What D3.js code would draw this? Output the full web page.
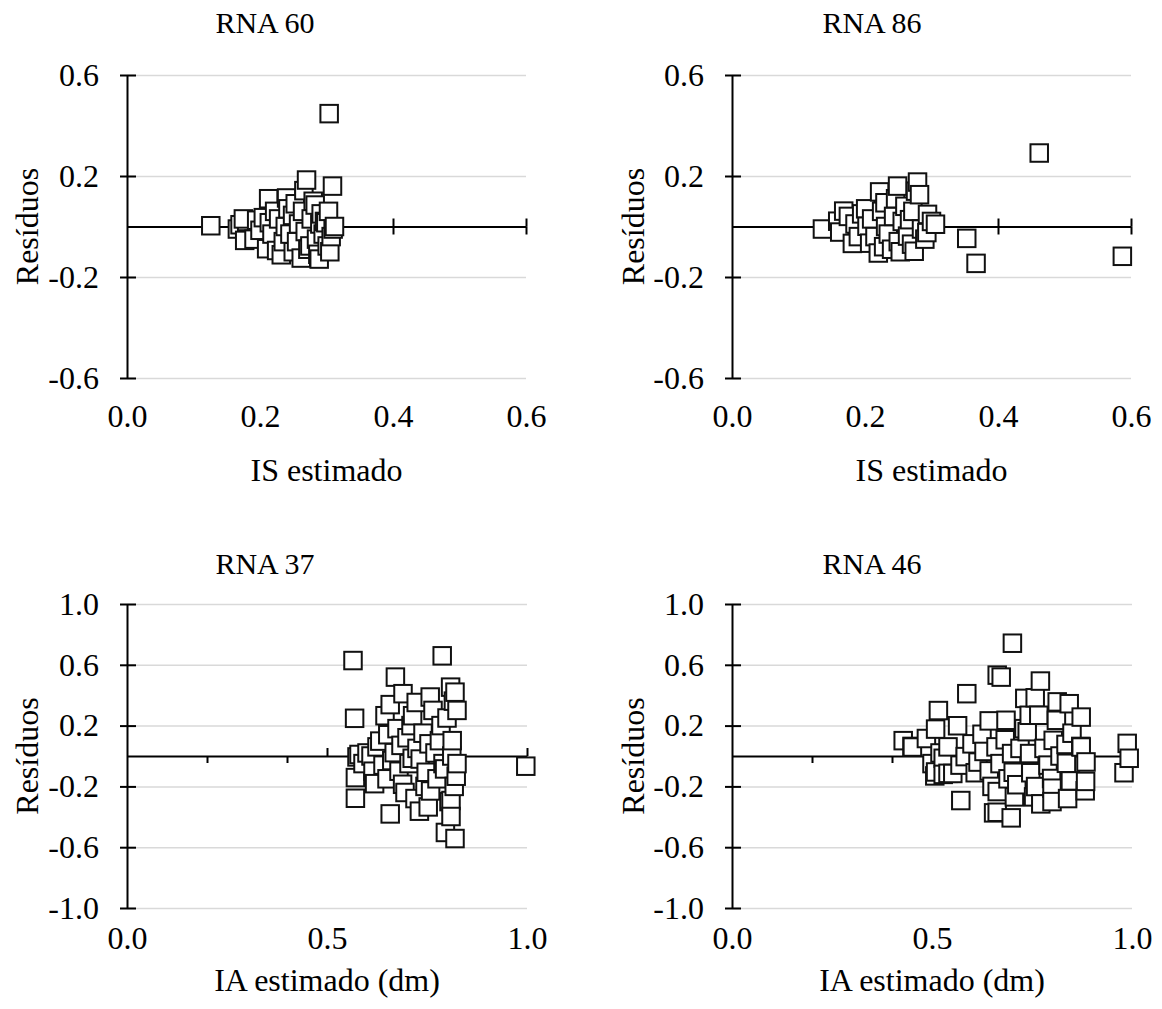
<!DOCTYPE html>
<html>
<head>
<meta charset="utf-8">
<script src="https://cdn.jsdelivr.net/npm/d3@7"></script>
<style>
  body { margin: 0; background: #fff; }
  text { font-family: "Liberation Serif", "Times New Roman", serif; fill: #000; }
</style>
</head>
<body>
<svg id="chart" width="1162" height="1009"></svg>
<script>
// Residuals [estimated value, residual] for each network
const rna60 = [
  [0.126, 0.003], [0.166, -0.010], [0.170, 0.007], [0.177, -0.055], [0.180, 0.020],
  [0.175, 0.030], [0.191, -0.050], [0.195, 0.025], [0.200, -0.015], [0.205, 0.035],
  [0.210, -0.088], [0.213, 0.110], [0.214, 0.015], [0.218, -0.030], [0.222, 0.060],
  [0.225, -0.095], [0.228, 0.030], [0.232, -0.112], [0.235, -0.060], [0.238, 0.000],
  [0.240, 0.113], [0.242, 0.070], [0.245, -0.030], [0.249, 0.044], [0.250, -0.100],
  [0.253, 0.090], [0.255, -0.060], [0.258, 0.010], [0.262, -0.125], [0.264, 0.060],
  [0.266, 0.142], [0.268, -0.020], [0.270, 0.184], [0.272, -0.090], [0.275, -0.077],
  [0.277, 0.030], [0.280, 0.100], [0.283, 0.085], [0.285, -0.050], [0.287, -0.110],
  [0.289, -0.129], [0.290, 0.010], [0.292, 0.050], [0.295, -0.030], [0.297, 0.020],
  [0.299, 0.015], [0.301, -0.077], [0.303, 0.060], [0.304, 0.447], [0.305, -0.100],
  [0.307, -0.040], [0.309, 0.160], [0.310, -0.010], [0.312, 0.000]
];

const rna86 = [
  [0.136, -0.010], [0.159, 0.021], [0.162, -0.022], [0.168, 0.061], [0.175, 0.040],
  [0.181, -0.067], [0.185, 0.010], [0.190, -0.040], [0.195, 0.050], [0.201, 0.070],
  [0.203, 0.001], [0.207, -0.066], [0.210, 0.030], [0.215, -0.040], [0.220, -0.105],
  [0.222, 0.137], [0.225, 0.060], [0.228, -0.080], [0.230, 0.094], [0.231, 0.000],
  [0.235, -0.030], [0.240, -0.090], [0.243, 0.040], [0.246, 0.110], [0.249, 0.160],
  [0.250, -0.060], [0.253, -0.100], [0.256, 0.020], [0.260, 0.080], [0.264, -0.038],
  [0.267, 0.027], [0.270, -0.070], [0.272, 0.060], [0.274, -0.098], [0.276, 0.140],
  [0.279, 0.176], [0.282, 0.126], [0.285, -0.010], [0.290, -0.050], [0.293, -0.024],
  [0.294, 0.048], [0.300, 0.020], [0.306, 0.009], [0.353, -0.047], [0.367, -0.146],
  [0.462, 0.291], [0.587, -0.118]
];

const rna37 = [
  [0.565, 0.628], [0.569, 0.248], [0.571, -0.142], [0.571, -0.278], [0.575, -0.006],
  [0.580, 0.010], [0.590, -0.050], [0.600, 0.020], [0.610, 0.000], [0.615, -0.100],
  [0.619, -0.182], [0.625, 0.060], [0.632, 0.098], [0.640, -0.060], [0.645, 0.265],
  [0.650, -0.150], [0.652, 0.140], [0.658, 0.338], [0.658, -0.381], [0.662, -0.030],
  [0.668, 0.022], [0.671, 0.519], [0.675, 0.180], [0.680, -0.100], [0.685, 0.070],
  [0.689, -0.186], [0.690, 0.410], [0.695, -0.240], [0.700, 0.120], [0.705, -0.050],
  [0.710, 0.200], [0.713, -0.015], [0.714, 0.265], [0.720, -0.280], [0.723, 0.352],
  [0.725, 0.050], [0.731, -0.363], [0.733, -0.020], [0.740, 0.150], [0.745, -0.200],
  [0.748, -0.107], [0.753, -0.335], [0.755, 0.080], [0.758, 0.388], [0.759, -0.230],
  [0.765, 0.300], [0.770, 0.020], [0.775, -0.150], [0.781, 0.101], [0.785, 0.200],
  [0.788, 0.659], [0.790, -0.050], [0.794, -0.085], [0.796, -0.503], [0.800, 0.250],
  [0.805, -0.300], [0.809, 0.453], [0.810, -0.293], [0.810, -0.398], [0.812, 0.000],
  [0.813, 0.101], [0.816, 0.361], [0.818, -0.200], [0.820, -0.543], [0.820, 0.420],
  [0.823, -0.133], [0.825, 0.300], [0.825, -0.050], [0.997, -0.067]
];

const rna46 = [
  [0.428, 0.101], [0.450, 0.063], [0.451, 0.059], [0.486, 0.115], [0.500, -0.050],
  [0.507, -0.131], [0.509, 0.177], [0.509, -0.105], [0.516, 0.299], [0.520, 0.020],
  [0.528, -0.015], [0.528, -0.121], [0.540, 0.060], [0.540, -0.114], [0.552, -0.115],
  [0.564, 0.199], [0.570, -0.060], [0.572, -0.293], [0.583, -0.004], [0.587, 0.410],
  [0.600, 0.080], [0.608, -0.110], [0.615, -0.040], [0.625, 0.143], [0.630, 0.030],
  [0.643, 0.231], [0.643, -0.098], [0.650, -0.200], [0.654, -0.374], [0.660, 0.060],
  [0.663, 0.532], [0.663, -0.234], [0.663, -0.370], [0.670, -0.050], [0.673, 0.519],
  [0.683, 0.107], [0.685, 0.235], [0.690, -0.150], [0.698, -0.407], [0.699, 0.016],
  [0.701, 0.742], [0.703, -0.107], [0.706, -0.269], [0.712, -0.189], [0.720, 0.050],
  [0.730, 0.180], [0.732, 0.379], [0.738, 0.160], [0.743, 0.268], [0.744, 0.016],
  [0.747, -0.110], [0.754, -0.269], [0.758, 0.383], [0.759, -0.201], [0.767, 0.268],
  [0.771, 0.493], [0.772, -0.315], [0.780, 0.050], [0.790, -0.060], [0.799, -0.148],
  [0.800, -0.212], [0.800, -0.300], [0.803, 0.103], [0.811, 0.235], [0.813, 0.356],
  [0.820, 0.000], [0.835, 0.076], [0.836, -0.048], [0.839, -0.280], [0.843, 0.344],
  [0.846, -0.164], [0.850, 0.150], [0.872, 0.063], [0.873, 0.059], [0.873, 0.256],
  [0.883, -0.229], [0.884, -0.167], [0.885, -0.039], [0.980, -0.110], [0.988, 0.083],
  [0.993, -0.015]
];

// Tick values
const isTicks = [0, 0.2, 0.4, 0.6];
const isCrossTicks = [0.2, 0.4, 0.6];
const iaTicks = [0, 0.5, 1.0];
const iaMajorTicks = [0.5, 1.0];
const iaMinorTicks = [0.2, 0.4, 0.6, 0.8];
const resTicksIS = [0.6, 0.2, -0.2, -0.6];
const resTicksIA = [1.0, 0.6, 0.2, -0.2, -0.6, -1.0];

const titles = ["RNA 60", "RNA 86", "RNA 37", "RNA 46"];
const xTitleIS = "IS estimado";
const xTitleIA = "IA estimado (dm)";
const yTitle = "Resíduos";

const fmt = d => d.toFixed(1);
const TICK_FONT = 32;
const AXIS_FONT = 32;
const TITLE_FONT = 30;

// Layout of the four plot areas
const panels = [
  { title: titles[0], data: rna60, xTitle: xTitleIS, xDomain: [0, 0.6], yDomain: [-0.6, 0.6],
    xTicks: isTicks, yTicks: resTicksIS, up: isCrossTicks, down: isCrossTicks,
    left: 127, right: 526, top: 75, bottom: 378, titleX: 265, titleY: 33,
    yTitleX: 27, xLabelY: 427, xTitleY: 481 },
  { title: titles[1], data: rna86, xTitle: xTitleIS, xDomain: [0, 0.6], yDomain: [-0.6, 0.6],
    xTicks: isTicks, yTicks: resTicksIS, up: isCrossTicks, down: isCrossTicks,
    left: 732, right: 1131, top: 75, bottom: 378, titleX: 872, titleY: 33,
    yTitleX: 633, xLabelY: 427, xTitleY: 481 },
  { title: titles[2], data: rna37, xTitle: xTitleIA, xDomain: [0, 1], yDomain: [-1, 1],
    xTicks: iaTicks, yTicks: resTicksIA, up: iaMajorTicks, down: iaMinorTicks,
    left: 127, right: 527, top: 604, bottom: 908, titleX: 265, titleY: 574,
    yTitleX: 27, xLabelY: 949, xTitleY: 991 },
  { title: titles[3], data: rna46, xTitle: xTitleIA, xDomain: [0, 1], yDomain: [-1, 1],
    xTicks: iaTicks, yTicks: resTicksIA, up: iaMajorTicks, down: iaMinorTicks,
    left: 732, right: 1132, top: 604, bottom: 908, titleX: 872, titleY: 574,
    yTitleX: 633, xLabelY: 949, xTitleY: 991 }
];

const svg = d3.select("#chart");
const MARK = 17.5;

panels.forEach(p => {
  const g = svg.append("g");
  const x = d3.scaleLinear().domain(p.xDomain).range([p.left, p.right]);
  const y = d3.scaleLinear().domain(p.yDomain).range([p.bottom, p.top]);

  // horizontal gridlines
  g.append("g")
    .attr("transform", `translate(${p.left},0)`)
    .call(d3.axisRight(y).tickValues(p.yTicks).tickSize(p.right - p.left).tickFormat(""))
    .call(s => s.select(".domain").remove())
    .selectAll("line").attr("stroke", "#d9d9d9").attr("stroke-width", 1.5);

  // horizontal axis through zero residual
  const zero = y(0);
  g.append("g")
    .attr("transform", `translate(0,${zero})`)
    .call(d3.axisTop(x).tickValues(p.up).tickSize(8).tickSizeOuter(0).tickFormat(""))
    .call(s => s.select(".domain").attr("stroke", "#000").attr("stroke-width", 2))
    .selectAll("line").attr("stroke", "#000").attr("stroke-width", 2);
  g.append("g")
    .attr("transform", `translate(0,${zero})`)
    .call(d3.axisBottom(x).tickValues(p.down).tickSize(p.up === p.down ? 8 : 7).tickSizeOuter(0).tickFormat(""))
    .call(s => s.select(".domain").remove())
    .selectAll("line").attr("stroke", "#000").attr("stroke-width", 2);

  // x tick labels below the plot area
  g.append("g")
    .attr("transform", `translate(0,${p.bottom})`)
    .call(d3.axisBottom(x).tickValues(p.xTicks).tickSize(0).tickFormat(fmt))
    .call(s => s.select(".domain").remove())
    .selectAll("text")
    .attr("y", p.xLabelY - p.bottom).attr("dy", 0)
    .style("font-size", TICK_FONT + "px")
    .style("font-family", "'Liberation Serif','Times New Roman',serif")
    .attr("fill", "#000");

  // residual markers
  g.append("g").selectAll("rect")
    .data(p.data)
    .join("rect")
    .attr("x", d => x(d[0]) - MARK / 2)
    .attr("y", d => y(d[1]) - MARK / 2)
    .attr("width", MARK)
    .attr("height", MARK)
    .attr("fill", "#fff")
    .attr("stroke", "#111")
    .attr("stroke-width", 2);

  // vertical axis with crossing ticks
  g.append("g")
    .attr("transform", `translate(${p.left},0)`)
    .call(d3.axisLeft(y).tickValues(p.yTicks).tickSize(7).tickSizeOuter(0).tickPadding(21).tickFormat(fmt))
    .call(s => s.select(".domain").attr("stroke", "#000").attr("stroke-width", 2))
    .call(s => s.selectAll("line").attr("stroke", "#000").attr("stroke-width", 2))
    .selectAll("text")
    .style("font-size", TICK_FONT + "px")
    .style("font-family", "'Liberation Serif','Times New Roman',serif")
    .attr("fill", "#000");
  g.append("g")
    .attr("transform", `translate(${p.left},0)`)
    .call(d3.axisRight(y).tickValues(p.yTicks).tickSize(9).tickSizeOuter(0).tickFormat(""))
    .call(s => s.select(".domain").remove())
    .selectAll("line").attr("stroke", "#000").attr("stroke-width", 2);

  // titles
  g.append("text")
    .attr("x", p.titleX).attr("y", p.titleY)
    .attr("text-anchor", "middle")
    .style("font-size", TITLE_FONT + "px")
    .text(p.title);

  g.append("text")
    .attr("x", (p.left + p.right) / 2).attr("y", p.xTitleY)
    .attr("text-anchor", "middle")
    .style("font-size", AXIS_FONT + "px")
    .text(p.xTitle);

  g.append("text")
    .attr("transform", `translate(${p.yTitleX},${(p.top + p.bottom) / 2}) rotate(-90)`)
    .attr("text-anchor", "middle")
    .attr("dy", "0.35em")
    .style("font-size", AXIS_FONT + "px")
    .text(yTitle);
});
</script>
</body>
</html>
